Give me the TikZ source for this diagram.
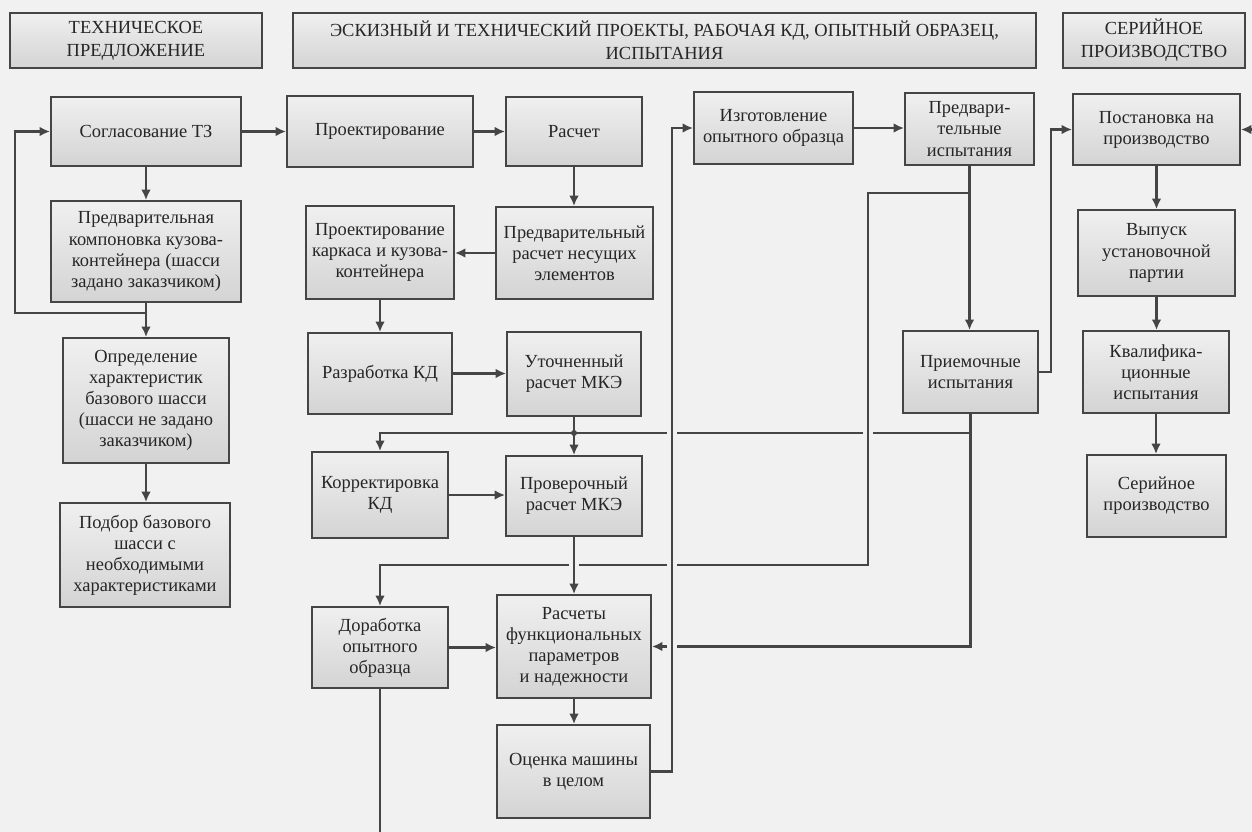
\documentclass[tikz,border=0pt]{standalone}
\usepackage{fontspec}
\setmainfont{Liberation Serif}
\usetikzlibrary{arrows.meta}
\definecolor{bg}{HTML}{F1F1F1}
\definecolor{ln}{HTML}{454545}
\begin{document}
\begin{tikzpicture}[x=0.02cm,y=-0.02cm,
 box/.style={draw=ln, line width=1pt, top color=gray!12, bottom color=gray!34, align=center, inner sep=1pt, text=black!85, font=\fontsize{10.5}{12}\selectfont},
 hdr/.style={box, font=\fontsize{10.5}{13}\selectfont},
 sz/.style 2 args={minimum width=#1*0.02cm, minimum height=#2*0.02cm},
 conn/.style={draw=ln, line width=1.3pt},
 arr/.style={conn, -{Latex[length=6pt,width=5.5pt]}},
 hop/.style={conn, preaction={draw=bg, line width=6pt}}]
\fill[bg] (0,0) rectangle (1252,832);
\useasboundingbox (0,0) rectangle (1252,832);
% headers
\node[hdr, sz={252}{55}] (H1) at (136,40.5) {ТЕХНИЧЕСКОЕ\\ПРЕДЛОЖЕНИЕ};
\node[hdr, sz={743}{55}] (H2) at (664.5,40.5) {ЭСКИЗНЫЙ И ТЕХНИЧЕСКИЙ ПРОЕКТЫ, РАБОЧАЯ КД, ОПЫТНЫЙ ОБРАЗЕЦ,\\ИСПЫТАНИЯ};
\node[hdr, sz={182}{55}] (H3) at (1154,40.5) {СЕРИЙНОЕ\\ПРОИЗВОДСТВО};
% boxes
\node[box, sz={190}{69}] (A) at (146,131.5) {Согласование ТЗ};
\node[box, sz={186}{71}] (B) at (380,131.5) {Проектирование};
\node[box, sz={136}{69}] (C) at (574,131.5) {Расчет};
\node[box, sz={159}{72}] (D) at (773.5,128) {Изготовление\\опытного образца};
\node[box, sz={129}{72}] (E) at (969.5,129) {Предвари-\\тельные\\испытания};
\node[box, sz={167}{71}] (F) at (1156.5,129.5) {Постановка на\\производство};
\node[box, sz={190}{101}] (G) at (146,251.5) {Предварительная\\компоновка кузова-\\контейнера (шасси\\задано заказчиком)};
\node[box, sz={148}{93}] (H) at (380,252.5) {Проектирование\\каркаса и кузова-\\контейнера};
\node[box, sz={157}{92}] (I) at (574.5,253) {Предварительный\\расчет несущих\\элементов};
\node[box, sz={157}{86}] (J) at (1156.5,253) {Выпуск\\установочной\\партии};
\node[box, sz={166}{125}] (K) at (146,400.5) {Определение\\характеристик\\базового шасси\\(шасси не задано\\заказчиком)};
\node[box, sz={144}{81}] (L) at (380,373.5) {Разработка КД};
\node[box, sz={134}{84}] (M) at (574,374) {Уточненный\\расчет МКЭ};
\node[box, sz={135}{82}] (N) at (970.5,372) {Приемочные\\испытания};
\node[box, sz={146}{82}] (O) at (1156,372) {Квалифика-\\ционные\\испытания};
\node[box, sz={170}{104}] (P) at (145,555) {Подбор базового\\шасси с\\необходимыми\\характеристиками};
\node[box, sz={136}{86}] (Q) at (380,495) {Корректировка\\КД};
\node[box, sz={136}{80}] (R) at (574,496) {Проверочный\\расчет МКЭ};
\node[box, sz={139}{82}] (S) at (1156.5,496) {Серийное\\производство};
\node[box, sz={136}{81}] (T) at (380,647.5) {Доработка\\опытного\\образца};
\node[box, sz={154}{103}] (U) at (574,646.5) {Расчеты\\функциональных\\параметров\\и надежности};
\node[box, sz={153}{93}] (V) at (573.5,771.5) {Оценка машины\\в целом};
% coordinates
\coordinate (g1) at (146,313);
\coordinate (g2) at (15,313);
\coordinate (j1) at (574,433);
\coordinate (n1) at (970.5,433);
\coordinate (e1) at (969.5,193);
\coordinate (e2) at (868,565);
\coordinate (dv) at (672,128);
\coordinate (nf) at (1051,129.5);
\coordinate (rt) at (1252,129.5);
\coordinate (tb) at (380,832);
% connectors
\draw[arr] (A) -- (B);
\draw[arr] (B) -- (C);
\draw[arr] (D.east) -- (D.east -| E.west);
\draw[arr] (A) -- (G);
\draw[arr] (G) -- (K);
\draw[arr] (g1) -- (g2) |- (A.west);
\draw[arr] (K.south) -- (K.south |- P.north);
\draw[arr] (C.south) -- (C.south |- I.north);
\draw[arr] (I.west) -- (I.west -| H.east);
\draw[arr] (H) -- (L);
\draw[arr] (L.east) -- (L.east -| M.west);
\draw[arr] (M) -- (R);
\draw[arr] (N.south) -- (n1) -| (Q.north);
\draw[arr] (N.south) |- (U.east);
\fill[ln] (j1) circle (3);
\draw[arr] (Q.east) -- (Q.east -| R.west);
\draw[arr] (R) -- (U);
\draw[arr] (E.south) -- (E.south |- N.north);
\draw[arr] (e1) -| (e2) -| (T.north);
\draw[arr] (T.east) -- (T.east -| U.west);
\draw[arr] (U.south) -- (U.south |- V.north);
\draw[arr] (V.east) -| (dv) -- (D.west);
\draw[arr] (N.east) -| (nf) -- (F.west);
\draw[arr] (rt) -- (F.east);
\draw[arr] (F.south) -- (F.south |- J.north);
\draw[arr] (J.south) -- (J.south |- O.north);
\draw[arr] (O.south) -- (O.south |- S.north);
\draw[conn] (T.south) -- (tb);
% crossings
\draw[hop] (672,423) -- (672,443);
\draw[hop] (672,555) -- (672,575);
\draw[hop] (672,637) -- (672,657);
\draw[hop] (868,423) -- (868,443);
\draw[hop] (574,557) -- (574,573);
\end{tikzpicture}
\end{document}
